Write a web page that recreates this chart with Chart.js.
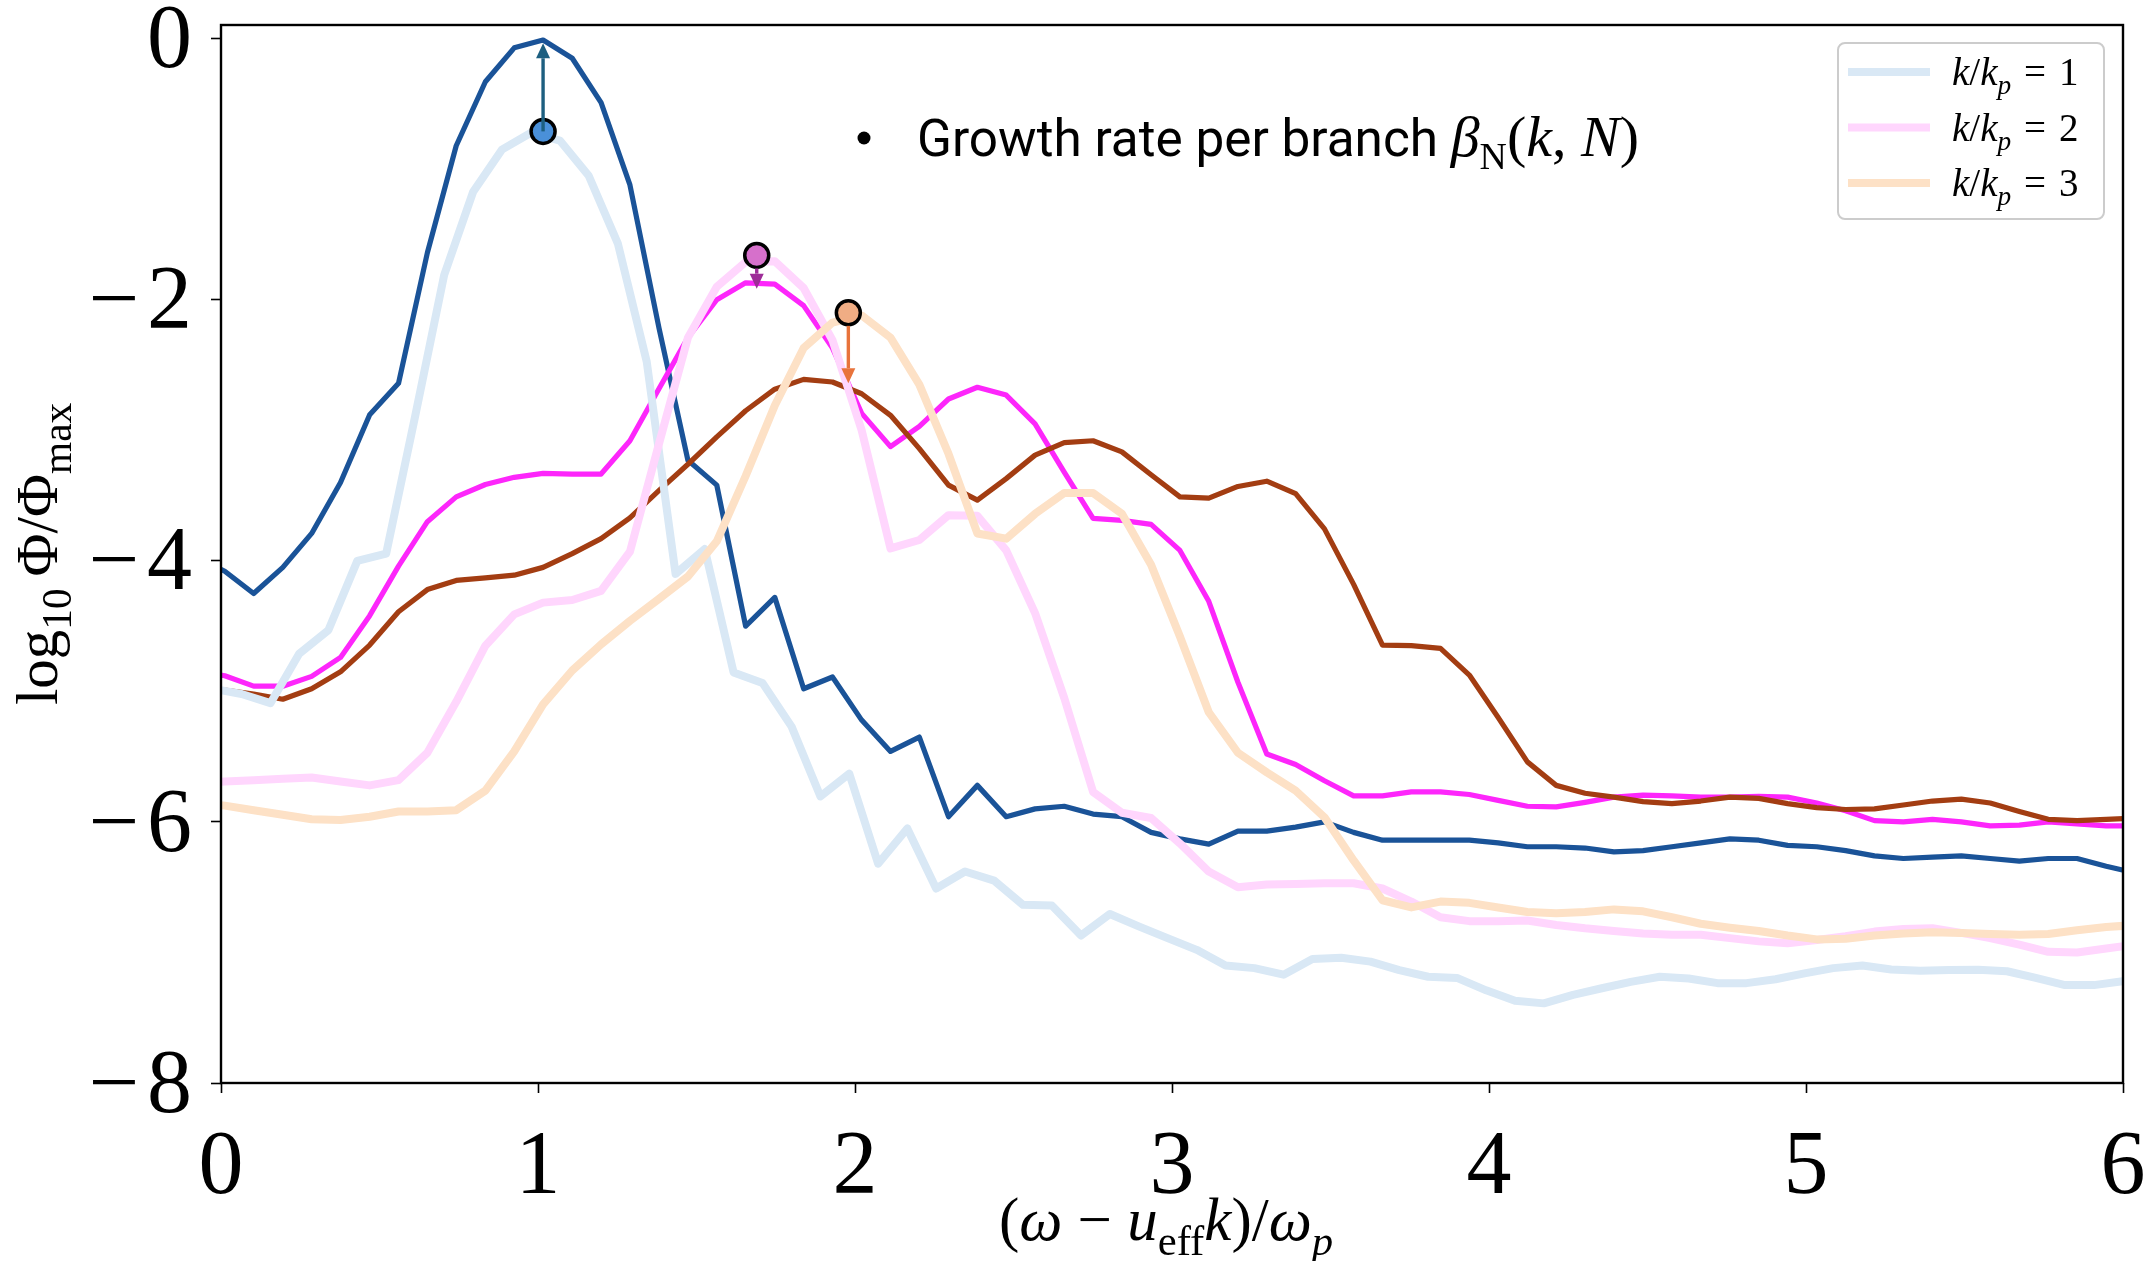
<!DOCTYPE html>
<html>
<head>
<meta charset="utf-8">
<script src="https://cdn.jsdelivr.net/npm/chart.js@4/dist/chart.umd.min.js"></script>
<style>
  html, body { margin: 0; padding: 0; background: #ffffff; }
  canvas { display: block; }
</style>
</head>
<body>
<canvas id="spectrum" width="2152" height="1261"></canvas>
<script>
// Frequency grid (ω − u_eff k)/ω_p shared by most curves
const X_GRID = [-0.079, 0.012, 0.103, 0.195, 0.286, 0.377, 0.469, 0.560, 0.651, 0.742, 0.834, 0.925, 1.016, 1.108,
  1.199, 1.290, 1.382, 1.473, 1.564, 1.655, 1.747, 1.838, 1.929, 2.021, 2.112, 2.203, 2.295, 2.386, 2.477, 2.568,
  2.660, 2.751, 2.842, 2.934, 3.025, 3.116, 3.208, 3.299, 3.390, 3.481, 3.573, 3.664, 3.755, 3.847, 3.938, 4.029,
  4.121, 4.212, 4.303, 4.394, 4.486, 4.577, 4.668, 4.760, 4.851, 4.942, 5.034, 5.125, 5.216, 5.307, 5.399, 5.490,
  5.581, 5.673, 5.764, 5.855, 5.947, 6.038];

// Grid of the light k/k_p = 1 curve (shifted)
const X_GRID_K1 = [-0.026, 0.065, 0.156, 0.247, 0.339, 0.430, 0.521, 0.613, 0.704, 0.795, 0.886, 0.978, 1.069,
  1.160, 1.252, 1.343, 1.434, 1.526, 1.617, 1.708, 1.800, 1.891, 1.982, 2.073, 2.165, 2.256, 2.347, 2.439, 2.530,
  2.621, 2.713, 2.804, 2.895, 2.986, 3.078, 3.169, 3.260, 3.352, 3.443, 3.534, 3.626, 3.717, 3.808, 3.899, 3.991,
  4.082, 4.173, 4.265, 4.356, 4.447, 4.539, 4.630, 4.721, 4.812, 4.904, 4.995, 5.086, 5.178, 5.269, 5.360, 5.452,
  5.543, 5.634, 5.725, 5.817, 5.908, 5.999];

// log10 Φ/Φmax, dark curves (on X_GRID)
const LOGPHI_K1_DARK = [-3.97, -4.08, -4.25, -4.05, -3.79, -3.40, -2.88, -2.64, -1.64, -0.82, -0.33, -0.07, -0.01,
  -0.15, -0.49, -1.12, -2.22, -3.23, -3.42, -4.50, -4.28, -4.98, -4.89, -5.22, -5.46, -5.35, -5.96, -5.72, -5.96,
  -5.90, -5.88, -5.94, -5.96, -6.08, -6.13, -6.17, -6.07, -6.07, -6.04, -6.00, -6.08, -6.14, -6.14, -6.14, -6.14,
  -6.16, -6.19, -6.19, -6.20, -6.23, -6.22, -6.19, -6.16, -6.13, -6.14, -6.18, -6.19, -6.22, -6.26, -6.28, -6.27,
  -6.26, -6.28, -6.30, -6.28, -6.28, -6.34, -6.39];

const LOGPHI_K2_DARK = [-4.84, -4.88, -4.96, -4.96, -4.885, -4.74, -4.42, -4.04, -3.70, -3.51, -3.415, -3.36, -3.33,
  -3.335, -3.335, -3.08, -2.68, -2.29, -2.00, -1.87, -1.88, -2.045, -2.37, -2.87, -3.125, -2.97, -2.76, -2.67, -2.73,
  -2.95, -3.32, -3.675, -3.69, -3.72, -3.92, -4.31, -4.93, -5.48, -5.56, -5.685, -5.80, -5.80, -5.77, -5.77, -5.79,
  -5.835, -5.88, -5.885, -5.85, -5.81, -5.795, -5.80, -5.81, -5.81, -5.805, -5.81, -5.855, -5.915, -5.99, -6.00,
  -5.98, -6.00, -6.03, -6.025, -6.00, -6.015, -6.03, -6.03];

const LOGPHI_K3_DARK = [-4.96, -4.99, -5.02, -5.06, -4.98, -4.85, -4.645, -4.39, -4.22, -4.15, -4.13, -4.11, -4.05,
  -3.945, -3.83, -3.67, -3.46, -3.26, -3.05, -2.85, -2.685, -2.61, -2.63, -2.72, -2.885, -3.14, -3.42, -3.535, -3.37,
  -3.19, -3.095, -3.08, -3.165, -3.34, -3.51, -3.52, -3.43, -3.39, -3.485, -3.755, -4.18, -4.645, -4.65, -4.67,
  -4.875, -5.20, -5.54, -5.72, -5.78, -5.81, -5.845, -5.86, -5.84, -5.81, -5.82, -5.86, -5.89, -5.905, -5.90, -5.87,
  -5.84, -5.825, -5.855, -5.92, -5.98, -5.99, -5.98, -5.97];

// log10 Φ/Φmax, light curves: k/k_p = 1 (on X_GRID_K1), k/k_p = 2 and 3 (on X_GRID)
const LOGPHI_K1 = [-4.98, -5.02, -5.09, -4.71, -4.53, -4.00, -3.945, -2.885, -1.81, -1.175, -0.85, -0.72, -0.78,
  -1.05, -1.57, -2.475, -4.10, -3.91, -4.855, -4.935, -5.27, -5.805, -5.63, -6.32, -6.05, -6.51, -6.38, -6.45, -6.635,
  -6.64, -6.87, -6.705, -6.80, -6.89, -6.98, -7.10, -7.12, -7.17, -7.05, -7.04, -7.07, -7.135, -7.186, -7.195, -7.29,
  -7.37, -7.39, -7.325, -7.274, -7.225, -7.186, -7.20, -7.235, -7.235, -7.205, -7.16, -7.12, -7.10, -7.13, -7.14,
  -7.135, -7.133, -7.144, -7.195, -7.25, -7.25, -7.22];

const LOGPHI_K2 = [-5.70, -5.69, -5.68, -5.67, -5.66, -5.69, -5.72, -5.68, -5.47, -5.08, -4.65, -4.41, -4.32, -4.30,
  -4.23, -3.93, -3.10, -2.29, -1.90, -1.71, -1.705, -1.91, -2.31, -3.00, -3.905, -3.84, -3.65, -3.655, -3.92, -4.40,
  -5.05, -5.77, -5.93, -5.97, -6.165, -6.38, -6.50, -6.48, -6.475, -6.47, -6.47, -6.51, -6.61, -6.73, -6.76, -6.76,
  -6.755, -6.79, -6.815, -6.835, -6.855, -6.865, -6.865, -6.89, -6.915, -6.93, -6.905, -6.875, -6.84, -6.82, -6.815,
  -6.85, -6.89, -6.94, -6.995, -7.00, -6.97, -6.94];

const LOGPHI_K3 = [-5.85, -5.875, -5.91, -5.945, -5.98, -5.985, -5.96, -5.92, -5.92, -5.91, -5.76, -5.46, -5.10,
  -4.84, -4.64, -4.46, -4.29, -4.12, -3.85, -3.35, -2.81, -2.37, -2.175, -2.12, -2.29, -2.65, -3.18, -3.79, -3.83,
  -3.64, -3.48, -3.48, -3.64, -4.03, -4.58, -5.16, -5.47, -5.62, -5.76, -5.965, -6.295, -6.60, -6.655, -6.61, -6.62,
  -6.655, -6.69, -6.70, -6.69, -6.67, -6.685, -6.73, -6.78, -6.81, -6.835, -6.87, -6.90, -6.895, -6.87, -6.855,
  -6.845, -6.85, -6.858, -6.865, -6.858, -6.83, -6.805, -6.79];

// Growth rate per branch: marker positions and arrow end points
const GROWTH_X = [1.016, 1.690, 1.979];
const GROWTH_Y = [-0.71, -1.66, -2.10];
const ARROW_END_Y = [-0.035, -1.915, -2.64];

// Axis ticks and legend entries
const X_TICKS = [0, 1, 2, 3, 4, 5, 6];
const Y_TICKS = [-8, -6, -4, -2, 0];
const LEGEND_K = ['1', '2', '3'];

const SERIF = '"Liberation Serif", "DejaVu Serif", serif';
const SANS = 'Roboto, "Open Sans", sans-serif';

const COL = {
  k1Dark: '#1a5398', k2Dark: '#fd26fb', k3Dark: '#a33d12',
  k1Light: '#d9e8f5', k2Light: '#ffd6fd', k3Light: '#fde1c6'
};

const toPoints = (xs, ys) => xs.map((x, k) => ({ x: x, y: ys[k] }));

function curve(label, xs, ys, color, width, order) {
  return {
    label: label, data: toPoints(xs, ys), showLine: true,
    borderColor: color, backgroundColor: color, borderWidth: width,
    pointRadius: 0, pointHoverRadius: 0, tension: 0, fill: false,
    borderJoinStyle: 'round', borderCapStyle: 'round', order: order, clip: 0
  };
}

const fmtTick = v => (v < 0 ? '\u2212\u200A' + Math.abs(v) : String(v));

// ---- small rich-text helper for math-style labels ----
function segFont(s, base, fam) {
  const size = (s.size || base) * (s.sub ? 0.7 : 1);
  return (s.it ? 'italic ' : '') + size.toFixed(1) + 'px ' + (s.fam || fam);
}
function richWidth(ctx, segs, base, fam) {
  let w = 0;
  segs.forEach(s => { ctx.font = segFont(s, base, fam); w += ctx.measureText(s.t).width; });
  return w;
}
function drawRich(ctx, segs, x, y, base, fam, align) {
  const w = richWidth(ctx, segs, base, fam);
  let cx = align === 'center' ? x - w / 2 : x;
  ctx.textBaseline = 'alphabetic';
  ctx.textAlign = 'left';
  segs.forEach(s => {
    ctx.font = segFont(s, base, fam);
    const dy = s.sub ? (s.size || base) * 0.24 : 0;
    ctx.fillText(s.t, cx, y + dy);
    cx += ctx.measureText(s.t).width;
  });
  return w;
}

const X_TITLE = [
  { t: '(' }, { t: 'ω', it: 1 }, { t: '\u2005−\u2005' }, { t: 'u', it: 1 }, { t: 'eff', sub: 1 },
  { t: 'k', it: 1 }, { t: ')/' }, { t: 'ω', it: 1 }, { t: 'p', it: 1, sub: 1 }
];
const Y_TITLE = [{ t: 'log' }, { t: '10', sub: 1 }, { t: '\u2009Φ/Φ' }, { t: 'max', sub: 1 }];

// frame, arrows, legend, annotation and axis titles
const decorations = {
  id: 'decorations',
  afterDatasetsDraw(chart) {
    const { ctx, chartArea: a, scales: { x, y } } = chart;
    ctx.save();
    // arrows from each growth-rate marker to its curve
    const arrowCol = ['#1d5f80', '#9e2d98', '#e8733b'];
    const fromCenter = [true, false, false];
    GROWTH_X.forEach((gx, k) => {
      const px = x.getPixelForValue(gx);
      let y0 = y.getPixelForValue(GROWTH_Y[k]);
      const y1 = y.getPixelForValue(ARROW_END_Y[k]);
      const dir = Math.sign(y1 - y0);
      if (!fromCenter[k]) y0 += dir * 13;
      const head = 15, hw = 7;
      ctx.strokeStyle = arrowCol[k];
      ctx.fillStyle = arrowCol[k];
      ctx.lineWidth = 3.4;
      ctx.lineCap = 'butt';
      ctx.beginPath();
      ctx.moveTo(px, y0);
      ctx.lineTo(px, y1 - dir * head);
      ctx.stroke();
      ctx.beginPath();
      ctx.moveTo(px, y1);
      ctx.lineTo(px - hw, y1 - dir * head);
      ctx.lineTo(px + hw, y1 - dir * head);
      ctx.closePath();
      ctx.fill();
    });
    // plot frame
    ctx.strokeStyle = '#000';
    ctx.lineWidth = 2.4;
    ctx.strokeRect(a.left, a.top, a.right - a.left, a.bottom - a.top);
    ctx.restore();
  },
  afterDraw(chart) {
    const { ctx, chartArea: a } = chart;
    ctx.save();
    ctx.fillStyle = '#000';

    // axis titles
    drawRich(ctx, X_TITLE, (a.left + a.right) / 2 - 6, 1240, 61, SERIF, 'center');
    ctx.save();
    ctx.translate(57, (a.top + a.bottom) / 2);
    ctx.rotate(-Math.PI / 2);
    drawRich(ctx, Y_TITLE, 0, 0, 59, SERIF, 'center');
    ctx.restore();

    // annotation: growth rate per branch
    ctx.beginPath();
    ctx.arc(864, 138, 6.5, 0, Math.PI * 2);
    ctx.fill();
    const words = 'Growth rate per branch ';
    ctx.font = '48px ' + SANS;
    const sansSize = 48 * 534 / ctx.measureText(words).width;
    drawRich(ctx, [
      { t: words, fam: SANS, size: sansSize },
      { t: 'β', it: 1, size: 58 }, { t: 'N', sub: 1, size: 54 },
      { t: '(', size: 58 }, { t: 'k', it: 1, size: 58 }, { t: ',\u2005', size: 58 },
      { t: 'N', it: 1, size: 58 }, { t: ')', size: 58 }
    ], 917, 156, 58, SERIF, 'left');

    // legend
    const lw = 266, lh = 176;
    const lx = a.right - 19 - lw, ly = a.top + 18;
    ctx.beginPath();
    ctx.roundRect(lx, ly, lw, lh, 7);
    ctx.fillStyle = 'rgba(255,255,255,0.85)';
    ctx.fill();
    ctx.strokeStyle = '#cccccc';
    ctx.lineWidth = 2;
    ctx.stroke();
    const legendCols = [COL.k1Light, COL.k2Light, COL.k3Light];
    LEGEND_K.forEach((n, k) => {
      const yy = ly + 29 + k * 55.5;
      ctx.strokeStyle = legendCols[k];
      ctx.lineWidth = 8;
      ctx.lineCap = 'butt';
      ctx.beginPath();
      ctx.moveTo(lx + 10, yy);
      ctx.lineTo(lx + 92, yy);
      ctx.stroke();
      ctx.fillStyle = '#000';
      drawRich(ctx, [
        { t: 'k', it: 1 }, { t: '/' }, { t: 'k', it: 1 }, { t: 'p', it: 1, sub: 1 }, { t: '\u2004=\u2004' + n }
      ], lx + 114, yy + 13, 39, SERIF, 'left');
    });
    ctx.restore();
  }
};

const tickFont = { family: SERIF, size: 90, lineHeight: 1 };

new Chart(document.getElementById('spectrum'), {
  type: 'scatter',
  data: {
    datasets: [
      {
        label: 'growth rate', data: toPoints(GROWTH_X, GROWTH_Y), showLine: false,
        pointRadius: 12, pointHoverRadius: 12, pointBorderWidth: 3.5, pointBorderColor: '#000',
        pointBackgroundColor: ['#4a90d9', '#d670cb', '#f0ad84'], order: 0, clip: false
      },
      curve('k/kp = 3', X_GRID, LOGPHI_K3, COL.k3Light, 8, 1),
      curve('k/kp = 2', X_GRID, LOGPHI_K2, COL.k2Light, 8, 2),
      curve('k/kp = 1', X_GRID_K1, LOGPHI_K1, COL.k1Light, 8, 3),
      curve('k/kp = 3 (dark)', X_GRID, LOGPHI_K3_DARK, COL.k3Dark, 5.2, 4),
      curve('k/kp = 2 (dark)', X_GRID, LOGPHI_K2_DARK, COL.k2Dark, 5.2, 5),
      curve('k/kp = 1 (dark)', X_GRID, LOGPHI_K1_DARK, COL.k1Dark, 5.2, 6)
    ]
  },
  options: {
    responsive: false,
    animation: false,
    devicePixelRatio: 1,
    events: [],
    layout: { padding: { top: 25, right: 29, left: 0, bottom: 0 } },
    plugins: { legend: { display: false }, tooltip: { enabled: false } },
    scales: {
      x: {
        type: 'linear', min: 0, max: 6,
        ticks: { color: '#000', font: tickFont, padding: 31, maxRotation: 0, autoSkip: false, callback: fmtTick },
        grid: { display: true, drawOnChartArea: false, drawTicks: true, tickLength: 10, tickWidth: 1.6, tickColor: '#000' },
        border: { display: false },
        afterBuildTicks: s => { s.ticks = X_TICKS.map(v => ({ value: v })); },
        afterFit: s => { s.height = 178; s.paddingLeft = 0; s.paddingRight = 0; s.paddingTop = 0; s.paddingBottom = 0; }
      },
      y: {
        type: 'linear', min: -8, max: 0.105,
        ticks: { color: '#000', font: tickFont, padding: 19, labelOffset: 5, callback: fmtTick },
        grid: { display: true, drawOnChartArea: false, drawTicks: true, tickLength: 10, tickWidth: 1.6, tickColor: '#000' },
        border: { display: false },
        afterBuildTicks: s => { s.ticks = Y_TICKS.map(v => ({ value: v })); },
        afterFit: s => { s.width = 221; s.paddingLeft = 0; s.paddingRight = 0; s.paddingTop = 0; s.paddingBottom = 0; }
      }
    }
  },
  plugins: [decorations]
});
</script>
</body>
</html>
